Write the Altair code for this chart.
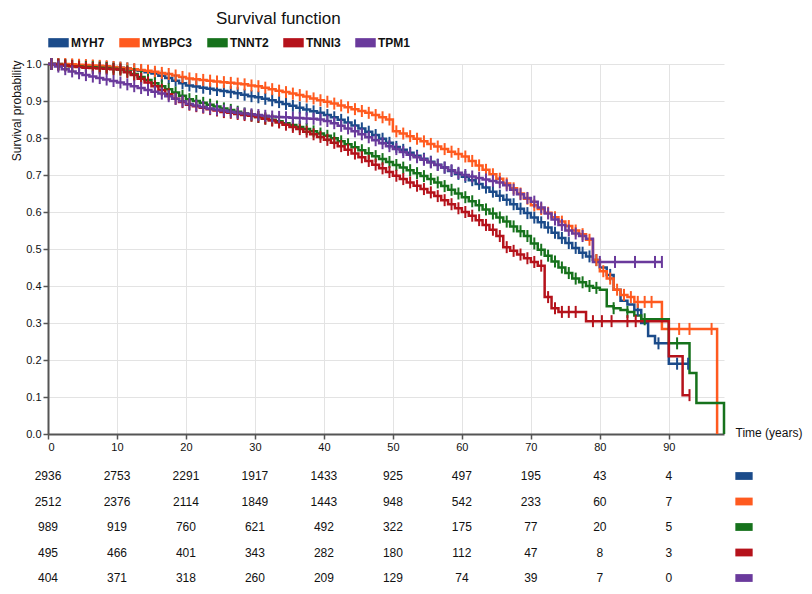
import altair as alt
import pandas as pd

GENES = ["MYH7", "MYBPC3", "TNNT2", "TNNI3", "TPM1"]
COLORS = ["#1b4b8a", "#ff5a1f", "#16721c", "#b5121b", "#6a3a9c"]

# Kaplan-Meier survival read at each whole year (index = year), step-after
S_MYH7 = [1.0, 1.0, 0.998, 0.997, 0.996, 0.995, 0.994, 0.993, 0.992, 0.991,
          0.99, 0.988, 0.985, 0.982, 0.978, 0.974, 0.968, 0.962, 0.955, 0.948,
          0.942, 0.939, 0.936, 0.933, 0.93, 0.927, 0.924, 0.921, 0.917, 0.913,
          0.91, 0.906, 0.902, 0.897, 0.892, 0.887, 0.882, 0.877, 0.872, 0.868,
          0.862, 0.856, 0.849, 0.842, 0.834, 0.826, 0.817, 0.808, 0.798, 0.787,
          0.776, 0.768, 0.76, 0.752, 0.744, 0.736, 0.728, 0.72, 0.711, 0.703,
          0.695, 0.686, 0.676, 0.666, 0.655, 0.644, 0.633, 0.621, 0.609, 0.597,
          0.585, 0.572, 0.558, 0.544, 0.53, 0.516, 0.503, 0.49, 0.48, 0.47,
          0.45, 0.43, 0.39, 0.36, 0.35, 0.335, 0.30, 0.265, 0.245, 0.245,
          0.19, 0.19, 0.19, 0.19]
S_MYBPC3 = [1.0, 1.0, 1.0, 0.999, 0.998, 0.997, 0.996, 0.995, 0.994, 0.992,
            0.99, 0.988, 0.986, 0.984, 0.982, 0.979, 0.976, 0.973, 0.969, 0.965,
            0.961, 0.959, 0.957, 0.955, 0.953, 0.951, 0.949, 0.947, 0.945, 0.942,
            0.94, 0.936, 0.932, 0.928, 0.924, 0.92, 0.916, 0.912, 0.907, 0.902,
            0.898, 0.893, 0.888, 0.883, 0.878, 0.873, 0.868, 0.862, 0.856, 0.85,
            0.818, 0.812, 0.805, 0.798, 0.791, 0.784, 0.777, 0.77, 0.763, 0.757,
            0.75, 0.738, 0.726, 0.714, 0.702, 0.69, 0.677, 0.664, 0.65, 0.636,
            0.618, 0.608, 0.598, 0.586, 0.574, 0.562, 0.55, 0.54, 0.525, 0.47,
            0.44, 0.42, 0.39, 0.376, 0.37, 0.357, 0.357, 0.357, 0.357, 0.284,
            0.284, 0.284, 0.284, 0.284, 0.284, 0.284, 0.284, 0.0]
S_TNNT2 = [1.0, 0.998, 0.996, 0.994, 0.993, 0.992, 0.991, 0.99, 0.989, 0.987,
           0.985, 0.98, 0.973, 0.965, 0.957, 0.948, 0.94, 0.932, 0.923, 0.914,
           0.905, 0.9, 0.895, 0.89, 0.885, 0.88, 0.876, 0.871, 0.866, 0.861,
           0.857, 0.853, 0.849, 0.845, 0.84, 0.835, 0.83, 0.824, 0.818, 0.812,
           0.806, 0.799, 0.791, 0.783, 0.775, 0.767, 0.759, 0.751, 0.743, 0.735,
           0.727, 0.72, 0.713, 0.705, 0.697, 0.689, 0.68, 0.67, 0.66, 0.65,
           0.64, 0.629, 0.618, 0.607, 0.596, 0.585, 0.574, 0.561, 0.548, 0.535,
           0.515, 0.498, 0.482, 0.466, 0.45, 0.435, 0.42, 0.41, 0.4, 0.395,
           0.39, 0.345, 0.34, 0.335, 0.33, 0.32, 0.31, 0.31, 0.31, 0.31,
           0.245, 0.245, 0.245, 0.165, 0.084, 0.084, 0.084, 0.084, 0.0]
S_TNNI3 = [1.0, 0.998, 0.996, 0.994, 0.992, 0.99, 0.989, 0.988, 0.987, 0.986,
           0.985, 0.978, 0.97, 0.96, 0.95, 0.94, 0.93, 0.918, 0.906, 0.897,
           0.89, 0.886, 0.882, 0.878, 0.874, 0.87, 0.868, 0.865, 0.862, 0.86,
           0.857, 0.852, 0.847, 0.842, 0.836, 0.83, 0.824, 0.817, 0.81, 0.803,
           0.795, 0.787, 0.778, 0.768, 0.758, 0.748, 0.738, 0.728, 0.718, 0.708,
           0.698, 0.689, 0.68, 0.671, 0.662, 0.653, 0.643, 0.632, 0.621, 0.61,
           0.6, 0.59, 0.578, 0.565, 0.552, 0.535, 0.505, 0.495, 0.485, 0.475,
           0.465, 0.455, 0.37, 0.34, 0.33, 0.33, 0.33, 0.33, 0.305, 0.305,
           0.305, 0.305, 0.305, 0.305, 0.305, 0.305, 0.305, 0.305, 0.305, 0.305,
           0.21, 0.21, 0.105, 0.105]
S_TPM1 = [1.0, 0.993, 0.986, 0.98, 0.975, 0.97, 0.966, 0.962, 0.958, 0.954,
          0.95, 0.945, 0.94, 0.935, 0.93, 0.925, 0.92, 0.913, 0.906, 0.899,
          0.892, 0.888, 0.884, 0.88, 0.877, 0.874, 0.871, 0.868, 0.866, 0.864,
          0.862, 0.86, 0.858, 0.857, 0.856, 0.855, 0.854, 0.853, 0.852, 0.85,
          0.846, 0.84, 0.833, 0.826, 0.818, 0.81, 0.802, 0.794, 0.786, 0.778,
          0.77, 0.762, 0.755, 0.748, 0.741, 0.734, 0.727, 0.72, 0.713, 0.706,
          0.7, 0.696, 0.692, 0.688, 0.684, 0.68, 0.672, 0.66, 0.648, 0.638,
          0.628, 0.612, 0.596, 0.58, 0.565, 0.55, 0.542, 0.535, 0.528, 0.465,
          0.465, 0.465, 0.465, 0.465, 0.465, 0.465, 0.465, 0.465, 0.465, 0.465]

SURV = {"MYH7": S_MYH7, "MYBPC3": S_MYBPC3, "TNNT2": S_TNNT2,
        "TNNI3": S_TNNI3, "TPM1": S_TPM1}

# censoring marks: one per yearly step up to this year, plus later isolated ones
DENSE_END = {"MYH7": 80, "MYBPC3": 88, "TNNT2": 80, "TNNI3": 77, "TPM1": 78}
EXTRA_CENSOR = {
    "MYH7": [81.5, 85.5, 88.5, 91.2, 92.8],
    "MYBPC3": [91.5, 93.0, 96.2],
    "TNNT2": [82.0, 84.0, 86.5, 91.2],
    "TNNI3": [79.0, 80.3, 81.7, 84.0, 85.2, 93.0],
    "TPM1": [80.0, 82.2, 85.1, 88.0, 89.0],
}

# number at risk table
RISK_TIMES = [0, 10, 20, 30, 40, 50, 60, 70, 80, 90]
RISK_MYH7 = [2936, 2753, 2291, 1917, 1433, 925, 497, 195, 43, 4]
RISK_MYBPC3 = [2512, 2376, 2114, 1849, 1443, 948, 542, 233, 60, 7]
RISK_TNNT2 = [989, 919, 760, 621, 492, 322, 175, 77, 20, 5]
RISK_TNNI3 = [495, 466, 401, 343, 282, 180, 112, 47, 8, 3]
RISK_TPM1 = [404, 371, 318, 260, 209, 129, 74, 39, 7, 0]
RISK = {"MYH7": RISK_MYH7, "MYBPC3": RISK_MYBPC3, "TNNT2": RISK_TNNT2,
        "TNNI3": RISK_TNNI3, "TPM1": RISK_TPM1}

Y_TICKS = [0.0, 0.1, 0.2, 0.3, 0.4, 0.5, 0.6, 0.7, 0.8, 0.9, 1.0]

# ---------- build tables ----------
curve_rows, cens_rows, risk_rows, key_rows = [], [], [], []
for gi, g in enumerate(GENES):
    s = SURV[g]
    for t, v in enumerate(s):
        curve_rows.append({"gene": g, "time": t, "surv": v})
    for t in range(DENSE_END[g]):
        cens_rows.append({"gene": g, "time": t + 0.5, "surv": s[t]})
    for t in EXTRA_CENSOR[g]:
        cens_rows.append({"gene": g, "time": t, "surv": s[int(t)]})
    for t, n in zip(RISK_TIMES, RISK[g]):
        risk_rows.append({"gene": g, "time": t, "n": str(n), "row": gi})
    key_rows.append({"gene": g, "row": gi})

curves = pd.DataFrame(curve_rows)
cens = pd.DataFrame(cens_rows)
risk = pd.DataFrame(risk_rows)
keys = pd.DataFrame(key_rows)

W, H = 676, 370
FONT = "Liberation Sans"
RECT = "M-1,-0.45L1,-0.45L1,0.45L-1,0.45Z"

color = alt.Color(
    "gene:N",
    scale=alt.Scale(domain=GENES, range=COLORS),
    sort=GENES,
    legend=alt.Legend(
        title=None, orient="none", legendX=0, legendY=-32,
        direction="horizontal", symbolType=RECT, symbolSize=420,
        symbolStrokeWidth=0, symbolOpacity=1,
        labelFont=FONT, labelFontSize=12, labelFontWeight="bold",
        labelColor="#111", labelOffset=2, columnPadding=14,
    ),
)
color_nolegend = alt.Color("gene:N", scale=alt.Scale(domain=GENES, range=COLORS), legend=None)

xs = alt.Scale(domain=[0, 98], nice=False, zero=False)
ys = alt.Scale(domain=[0, 1], nice=False)

x_axis = alt.Axis(
    values=RISK_TIMES, format="d", title="Time (years)", titleAngle=0,
    titleAlign="left", titleBaseline="middle", titleX=W + 11, titleY=-2,
    titleFont=FONT, titleFontSize=12, titleFontWeight="normal", titleColor="#111",
    labelOverlap=False,
)
y_axis = alt.Axis(
    values=Y_TICKS, format=".1f", title="Survival probability",
    titleAngle=-90, titleAlign="right", titleBaseline="middle",
    titleX=-32, titleY=-4, titleFont=FONT, titleFontSize=12,
    titleFontWeight="normal", titleColor="#111", labelOverlap=False,
)

X = alt.X("time:Q", scale=xs, axis=x_axis)
Y = alt.Y("surv:Q", scale=ys, axis=y_axis)

lines = alt.Chart(curves).mark_line(interpolate="step-after", strokeWidth=2.5).encode(
    x=X, y=Y, color=color, detail="gene:N", order="time:Q",
)
ticks = alt.Chart(cens).mark_point(
    shape="M0,-1L0,1", size=144, strokeWidth=2, filled=False, opacity=1
).encode(x=X, y=Y, color=color_nolegend)
plot = alt.layer(lines, ticks)

row_scale = alt.Scale(domain=[0, 4], range=[412, 514], nice=False, zero=False)
table = alt.Chart(risk).mark_text(font=FONT, fontSize=12, color="#111").encode(
    x=X,
    y=alt.Y("row:Q", scale=row_scale, axis=None),
    text="n:N",
)
swatch = alt.Chart(keys).mark_point(shape=RECT, size=300, filled=True, opacity=1, strokeWidth=0).encode(
    x=alt.value(W + 20),
    y=alt.Y("row:Q", scale=row_scale, axis=None),
    color=color_nolegend,
)

chart = alt.layer(plot, table, swatch).resolve_scale(y="independent").properties(
    width=W, height=H,
    title=alt.TitleParams("Survival function", anchor="start", frame="group", dx=168, dy=0,
                          font=FONT, fontSize=17, fontWeight="normal", color="#111"),
    autosize=alt.AutoSizeParams(type="none"),
    padding={"left": 40, "top": 56, "right": 80, "bottom": 152},
).configure_view(stroke=None).configure_axis(
    labelFont=FONT, labelFontSize=11, labelColor="#111",
    domainColor="#555", domainWidth=2, tickColor="#555", tickWidth=1.5, tickSize=5,
    gridColor="#e3e3e3", gridWidth=1,
)

chart.save("out.html", embed_options={"renderer": "svg", "actions": False})
